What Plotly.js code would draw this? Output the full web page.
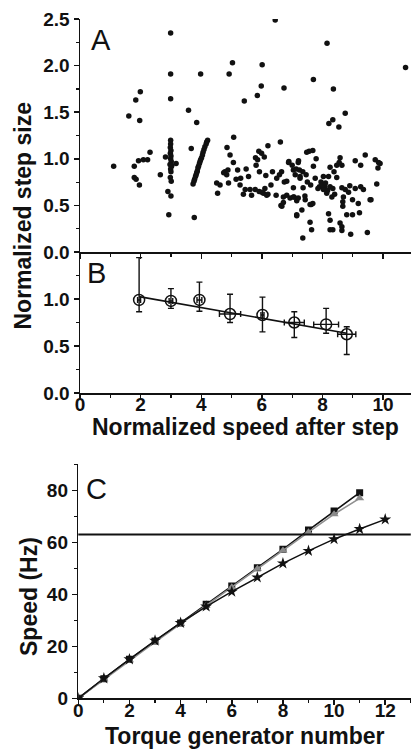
<!DOCTYPE html>
<html>
<head>
<meta charset="utf-8">
<script src="https://cdn.plot.ly/plotly-3.0.1.min.js"></script>
<style>html,body{margin:0;padding:0;background:#fff;}#chart{width:412px;height:750px;}</style>
</head>
<body>
<div id="chart"></div>
<script>
// ---------- Panel A: individual steps ----------
const stepX = [
  2.99,2.99,3.98,4.92,5.03,1.99,1.84,2.99,5.42,1.61,1.97,3.58,3.85,
  6.44,8.15,6.01,5.98,6.73,7.70,8.36,5.85,10.74,8.75,8.34,8.21,8.54,
  1.11,1.79,1.93,2.09,2.23,2.31,1.79,1.85,1.96,2.65,2.82,
  2.99,2.99,2.98,3.00,2.98,3.00,2.99,3.01,2.97,3.02,2.99,3.00,2.98,3.01,2.90,3.00,2.93,3.17,3.02,
  3.67,4.21,4.18,4.16,4.12,4.09,4.06,4.04,4.01,3.98,3.96,3.94,3.91,3.89,3.87,3.85,3.83,3.81,3.78,3.76,3.73,3.77,
  5.07,4.85,4.95,5.06,4.78,4.84,4.74,4.88,4.51,4.62,4.54,4.90,
  5.48,5.30,5.56,5.28,5.45,5.61,5.78,5.91,6.05,6.16,6.10,6.30,6.13,5.92,5.81,5.86,5.79,5.90,5.99,6.08,6.20,6.61,
  6.35,6.49,6.58,6.65,6.74,6.89,7.04,6.47,6.63,6.71,6.82,7.04,5.39,5.66,6.00,6.20,6.66,6.71,5.20,5.15,
  6.88,7.20,7.26,6.82,7.04,7.36,6.93,7.15,7.42,7.63,7.15,7.64,7.59,
  7.56,7.68,7.48,7.21,7.79,8.58,9.08,9.26,9.41,9.74,9.85,9.83,8.47,8.64,8.25,7.70,7.13,7.24,7.46,7.26,
  7.76,8.03,8.20,8.38,8.47,7.61,7.95,8.08,8.25,8.34,8.03,8.14,8.31,8.64,8.75,8.86,9.08,9.26,9.79,8.69,
  8.99,9.18,8.67,8.67,9.57,7.43,7.68,7.59,7.32,7.15,7.06,7.20,8.20,8.80,8.99,9.22,8.25,8.58,8.64,
  8.25,8.34,8.64,8.93,9.48,7.35,9.90,9.60,
  7.90,8.00,8.10,8.17,8.55,7.00,7.10,7.35,7.50,7.85,8.40,8.90,9.35
];
const stepY = [
  2.35,1.91,1.91,1.91,2.03,1.72,1.63,1.645,1.62,1.46,1.41,1.52,1.39,
  2.49,2.24,2.01,1.78,1.76,1.85,1.75,1.68,1.98,1.49,1.42,1.38,1.34,
  0.92,0.92,0.98,0.99,0.99,1.07,0.80,0.78,0.72,0.83,1.02,
  1.20,1.16,1.12,1.09,1.06,1.03,1.00,0.97,0.94,0.92,0.89,0.86,0.80,0.76,0.65,0.60,0.40,0.95,0.93,
  1.11,1.20,1.18,1.16,1.13,1.10,1.07,1.04,1.01,0.99,0.97,0.95,0.92,0.90,0.87,0.85,0.83,0.81,0.78,0.76,0.73,0.37,
  1.23,1.12,1.04,0.96,0.86,0.83,0.85,0.88,0.74,0.72,0.63,0.74,
  0.89,0.79,0.81,0.72,0.67,0.67,0.67,0.65,0.63,0.61,0.68,0.72,0.82,0.86,0.93,0.99,1.01,1.08,1.06,1.02,1.14,1.18,
  0.86,0.79,0.83,0.86,0.75,0.97,0.88,0.61,0.50,0.59,0.61,0.59,0.62,0.61,0.64,0.62,0.49,0.53,0.88,0.78,
  0.96,0.96,0.81,0.76,0.69,0.69,0.58,0.55,0.60,0.51,0.39,0.24,0.32,
  1.08,1.09,1.07,0.98,1.00,1.01,0.98,0.93,1.04,0.99,0.96,0.90,0.93,0.93,0.91,0.92,0.89,0.88,0.83,0.79,
  0.79,0.81,0.81,0.86,0.80,0.72,0.75,0.70,0.70,0.68,0.67,0.63,0.59,0.69,0.67,0.64,0.68,0.70,0.73,0.59,
  0.56,0.52,0.54,0.49,0.56,0.56,0.52,0.51,0.45,0.40,0.59,0.58,0.41,0.40,0.40,0.42,0.34,0.31,0.27,
  0.24,0.24,0.23,0.19,0.21,0.15,0.95,0.56,
  0.70,0.72,0.74,0.66,0.96,0.93,0.83,0.86,0.75,0.68,0.62,0.71,0.67
];

// ---------- Panel B: binned means ----------
const binSpeed   = [1.95, 3.00, 3.94, 4.95, 6.02, 7.07, 8.12, 8.80];
const binStep    = [0.99, 0.98, 0.99, 0.84, 0.83, 0.75, 0.73, 0.625];
const binErrUp   = [0.45, 0.13, 0.19, 0.21, 0.19, 0.115, 0.17, 0.08];
const binErrDown = [0.125, 0.08, 0.12, 0.09, 0.18, 0.16, 0.095, 0.215];
const binErrX    = [0.05, 0.06, 0.08, 0.35, 0.05, 0.33, 0.41, 0.30];
const fitSpeed   = [1.95, 8.80];
const fitStep    = [1.025, 0.635];
const bTickVals  = [0, 0.5, 1.0, 1.5];
const bTickText  = ['0.0', '0.5', '1.0', ''];

// ---------- Panel C: speed vs torque generator number ----------
const generatorsA = [0,1,2,3,4,5,6,7,8,9,10,11];
const speedSquare = [0, 7.5, 15.0, 22.0, 29.0, 36.2, 43.2, 50.2, 57.3, 64.7, 72.0, 79.1];
const speedTriangle = [0, 7.3, 14.6, 21.6, 28.6, 35.7, 42.7, 49.8, 56.8, 63.9, 70.8, 76.9];
const generatorsB = [0,1,2,3,4,5,6,7,8,9,10,11,12];
const speedStar = [0, 7.7, 15.0, 22.2, 29.0, 35.3, 41.0, 46.5, 51.9, 56.7, 61.2, 65.1, 68.8];
const speedLimit = 63;

const FONT = 'Liberation Sans, Arial, Helvetica, sans-serif';
const W = 412, H = 750;
const fx = p => p / W;
const fy = p => 1 - p / H;

const traces = [
  {x: stepX, y: stepY, xaxis: 'x', yaxis: 'y', type: 'scatter', mode: 'markers',
   marker: {size: 5.5, color: '#111'}, showlegend: false},
  {x: fitSpeed, y: fitStep, xaxis: 'x2', yaxis: 'y2', type: 'scatter', mode: 'lines',
   line: {color: '#111', width: 1.6}, showlegend: false},
  {x: binSpeed, y: binStep, xaxis: 'x2', yaxis: 'y2', type: 'scatter', mode: 'markers',
   marker: {symbol: 'circle-open', size: 11, color: '#111', line: {width: 1.5, color: '#111'}},
   error_y: {type: 'data', symmetric: false, array: binErrUp, arrayminus: binErrDown,
             color: '#111', thickness: 1.4, width: 3},
   error_x: {type: 'data', array: binErrX, color: '#111', thickness: 1.4, width: 3},
   showlegend: false},
  {x: generatorsA, y: speedSquare, xaxis: 'x3', yaxis: 'y3', type: 'scatter', mode: 'lines+markers',
   line: {color: '#111', width: 1.6}, marker: {symbol: 'square', size: 7, color: '#111'}, showlegend: false},
  {x: generatorsA, y: speedTriangle, xaxis: 'x3', yaxis: 'y3', type: 'scatter', mode: 'lines+markers',
   line: {color: '#8f8f8f', width: 1.6}, marker: {symbol: 'triangle-up', size: 8, color: '#8a8a8a'}, showlegend: false},
  {x: generatorsB, y: speedStar, xaxis: 'x3', yaxis: 'y3', type: 'scatter', mode: 'lines+markers',
   line: {color: '#111', width: 1.5}, marker: {symbol: 'star', size: 9, color: '#111'}, showlegend: false}
];

const tickFont = {family: FONT, size: 19, color: '#111', weight: 'bold'};
function baseAxis(extra) {
  return Object.assign({
    showline: true, linecolor: '#111', linewidth: 1.5, showgrid: false, zeroline: false,
    ticks: 'outside', ticklen: 5, tickwidth: 1.5, tickcolor: '#111', tickfont: tickFont,
    tickprefix: '<b>', ticksuffix: '</b>', fixedrange: true
  }, extra);
}
function mirrorAxis(extra) {
  return Object.assign({
    showline: true, linecolor: '#111', linewidth: 1.5, showgrid: false, zeroline: false,
    ticks: 'inside', ticklen: 5, tickwidth: 1.5, tickcolor: '#111', showticklabels: false,
    fixedrange: true
  }, extra);
}
const minorX = {ticks: 'outside', ticklen: 3, tickwidth: 1.2, tickcolor: '#111', dtick: 1, showgrid: false};
const minorXin = {ticks: 'inside', ticklen: 3, tickwidth: 1.2, tickcolor: '#111', dtick: 1, showgrid: false};

const xDomAB = [fx(80), fx(411)];
const xRangeAB = [0, 10.92];
const yDomA = [fy(252), fy(19)];
const yDomB = [fy(393), fy(252)];
const xDomC = [fx(78.3), fx(410.8)];
const yDomC = [fy(698.3), fy(464.3)];

const titleFont = {family: FONT, size: 23, color: '#111', weight: 'bold'};
const letterFont = {family: FONT, size: 29, color: '#111'};

const layout = {
  width: W, height: H,
  margin: {l: 0, r: 0, t: 0, b: 0},
  paper_bgcolor: '#fff', plot_bgcolor: '#fff',
  showlegend: false,
  font: {family: FONT, color: '#111'},
  // Panel A
  xaxis: baseAxis({domain: xDomAB, anchor: 'y', range: xRangeAB, dtick: 2, tick0: 0,
                   showticklabels: false, minor: minorX}),
  yaxis: baseAxis({domain: yDomA, anchor: 'x', range: [0, 2.5], dtick: 0.5, tick0: 0, tickformat: '.1f',
                   minor: {ticks: 'outside', ticklen: 3, tickwidth: 1.2, tickcolor: '#111', dtick: 0.25, showgrid: false}}),
  xaxis4: mirrorAxis({overlaying: 'x', anchor: 'y', side: 'top', range: xRangeAB, dtick: 2, tick0: 0, minor: minorXin}),
  yaxis4: mirrorAxis({overlaying: 'y', anchor: 'x', side: 'right', range: [0, 2.5], dtick: 0.5, tick0: 0,
                      minor: {ticks: 'inside', ticklen: 3, tickwidth: 1.2, tickcolor: '#111', dtick: 0.25, showgrid: false}}),
  // Panel B
  xaxis2: baseAxis({domain: xDomAB, anchor: 'y2', range: xRangeAB, dtick: 2, tick0: 0, minor: minorX,
                    ticklabelstandoff: -11}),
  yaxis2: baseAxis({domain: yDomB, anchor: 'x2', range: [0, 1.5], tickmode: 'array', tickvals: bTickVals,
                    ticktext: bTickText,
                    minor: {ticks: 'outside', ticklen: 3, tickwidth: 1.2, tickcolor: '#111', tickmode: 'array',
                            tickvals: [0.25, 0.75, 1.25], showgrid: false}}),
  xaxis5: mirrorAxis({overlaying: 'x2', anchor: 'y2', side: 'top', range: xRangeAB, dtick: 2, tick0: 0, minor: minorXin}),
  yaxis5: mirrorAxis({overlaying: 'y2', anchor: 'x2', side: 'right', range: [0, 1.5], dtick: 0.5, tick0: 0,
                      minor: {ticks: 'inside', ticklen: 3, tickwidth: 1.2, tickcolor: '#111', dtick: 0.25, showgrid: false}}),
  // Panel C
  xaxis3: baseAxis({domain: xDomC, anchor: 'y3', range: [0, 13], dtick: 2, tick0: 0, minor: minorX,
                    ticklabelstandoff: -11}),
  yaxis3: baseAxis({domain: yDomC, anchor: 'x3', range: [0, 90], dtick: 20, tick0: 0,
                    minor: {ticks: 'outside', ticklen: 3, tickwidth: 1.2, tickcolor: '#111', dtick: 10, showgrid: false}}),
  xaxis6: mirrorAxis({overlaying: 'x3', anchor: 'y3', side: 'top', range: [0, 13], dtick: 2, tick0: 0, minor: minorXin}),
  yaxis6: mirrorAxis({overlaying: 'y3', anchor: 'x3', side: 'right', range: [0, 90], dtick: 20, tick0: 0,
                      minor: {ticks: 'inside', ticklen: 3, tickwidth: 1.2, tickcolor: '#111', dtick: 10, showgrid: false}}),
  shapes: [
    {type: 'line', xref: 'x3 domain', yref: 'y3', x0: 0, x1: 1, y0: speedLimit, y1: speedLimit,
     line: {color: '#111', width: 2}}
  ],
  annotations: [
    {text: 'Normalized step size', xref: 'paper', yref: 'paper', x: fx(22.5), y: fy(216),
     xanchor: 'center', yanchor: 'middle', textangle: -90, showarrow: false, font: titleFont},
    {text: 'Normalized speed after step', xref: 'paper', yref: 'paper', x: fx(245.5), y: fy(427),
     xanchor: 'center', yanchor: 'middle', showarrow: false, font: titleFont},
    {text: 'Speed (Hz)', xref: 'paper', yref: 'paper', x: fx(29), y: fy(597),
     xanchor: 'center', yanchor: 'middle', textangle: -90, showarrow: false, font: titleFont},
    {text: 'Torque generator number', xref: 'paper', yref: 'paper', x: fx(245), y: fy(736),
     xanchor: 'center', yanchor: 'middle', showarrow: false, font: titleFont},
    {text: 'A', xref: 'paper', yref: 'paper', x: fx(89), y: fy(40), xanchor: 'left', yanchor: 'middle',
     showarrow: false, font: letterFont},
    {text: 'B', xref: 'paper', yref: 'paper', x: fx(85), y: fy(273), xanchor: 'left', yanchor: 'middle',
     showarrow: false, font: letterFont},
    {text: 'C', xref: 'paper', yref: 'paper', x: fx(84), y: fy(489), xanchor: 'left', yanchor: 'middle',
     showarrow: false, font: letterFont}
  ]
};

Plotly.newPlot('chart', traces, layout, {staticPlot: true, displayModeBar: false});
</script>
</body>
</html>
